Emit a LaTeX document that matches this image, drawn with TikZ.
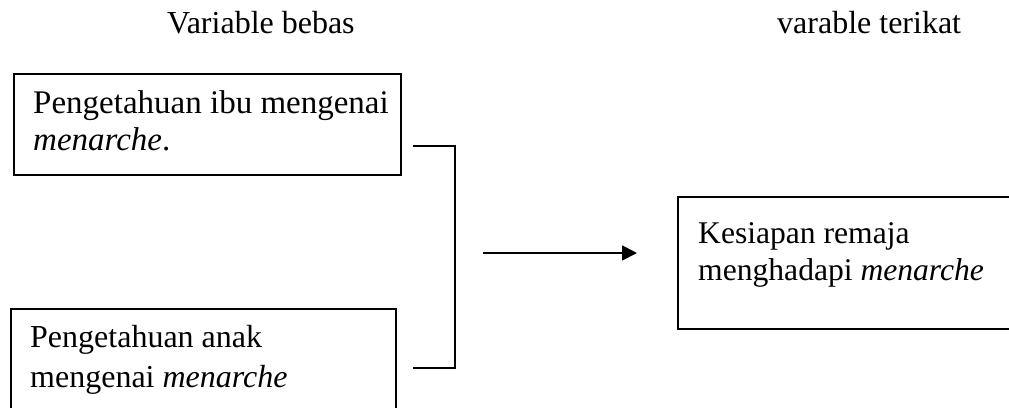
\documentclass[tikz,border=0pt]{standalone}
\usepackage{fontspec}
\setmainfont{Liberation Serif}
\usetikzlibrary{arrows.meta}
\begin{document}
\begin{tikzpicture}[x=1pt,y=-1pt,
  boxline/.style={draw=black,line width=1.8pt},
  txt/.style={anchor=base west,inner sep=0pt,font=\fontsize{33}{38}\selectfont},
  txtb/.style={anchor=base west,inner sep=0pt,font=\fontsize{32}{38}\selectfont},
  txtc/.style={anchor=base west,inner sep=0pt,font=\fontsize{31.6}{38}\selectfont},
  htxt/.style={anchor=base west,inner sep=0pt,font=\fontsize{32}{38}\selectfont},
  conn/.style={draw=black,line width=1.8pt},
  arr/.style={draw=black,line width=1.8pt,-{Triangle[length=15pt,width=15pt]}}]
\useasboundingbox[fill=white] (0,0) rectangle (1009,407);
% headers
\node[htxt] (hbebas) at (167,33) {Variable bebas};
\node[htxt] (hterikat) at (777,33) {varable terikat};
% box 1
\node[boxline,anchor=north west,minimum width=387pt,minimum height=101pt,inner sep=0pt] (box1) at (13,73) {};
\node[txt] (b1l1) at (33,113) {Pengetahuan ibu mengenai};
\node[txt] (b1l2) at (33,150) {\itshape menarche\upshape.};
% box 2
\node[boxline,anchor=north west,minimum width=385pt,minimum height=120pt,inner sep=0pt] (box2) at (10,308) {};
\node[txtb] (b2l1) at (30,347) {Pengetahuan anak};
\node[txtb] (b2l2) at (30,387) {mengenai \itshape menarche};
% right box
\node[boxline,anchor=north west,minimum width=350pt,minimum height=132pt,inner sep=0pt] (box3) at (677,196) {};
\node[txtc] (b3l1) at (698,243) {Kesiapan remaja};
\node[txtc] (b3l2) at (698,280) {menghadapi \itshape menarche};
% bracket
\coordinate (bt) at (413,146);
\coordinate (btc) at (455,146);
\coordinate (bbc) at (455,368);
\coordinate (bb) at (413,368);
\draw[conn] (bt) -- (btc) -- (bbc) -- (bb);
% arrow
\coordinate (as) at (483,253);
\coordinate (ae) at (637,253);
\draw[arr] (as) -- (ae);
\end{tikzpicture}
\end{document}
